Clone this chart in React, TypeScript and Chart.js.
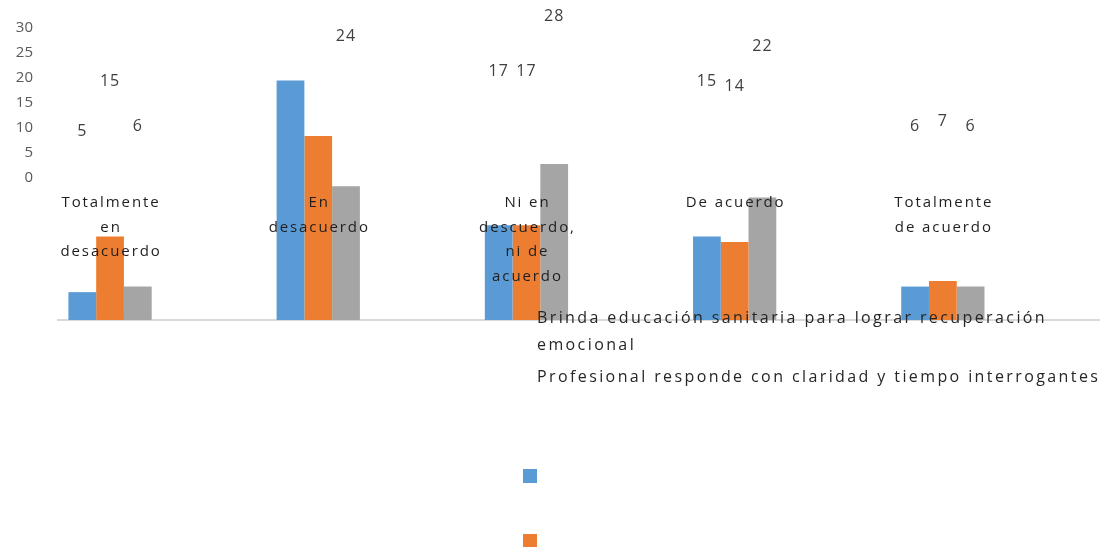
import { useEffect, useRef } from 'react';
import { Chart, registerables } from 'chart.js';

Chart.register(...registerables);

// Response categories (already split into display lines)
const categories: string[][] = [
  ['Totalmente', 'en', 'desacuerdo'],
  ['En', 'desacuerdo'],
  ['Ni en', 'descuerdo,', 'ni de', 'acuerdo'],
  ['De acuerdo'],
  ['Totalmente', 'de acuerdo'],
];

const seriesNames = [
  'Brinda educación sanitaria para lograr recuperación emocional',
  'Profesional responde con claridad y tiempo interrogantes',
  '',
];
const seriesColors = ['#5B9BD5', '#ED7D31', '#A5A5A5'];

const educacionSanitaria = [5, 43, 17, 15, 6];
const respondeClaridad = [15, 33, 17, 14, 7];
const terceraSerie = [6, 24, 28, 22, 6];

const tickValues = [0, 5, 10, 15, 20, 25, 30];

const FONT = '"Open Sans", "Noto Sans", sans-serif';

function wrapText(ctx: CanvasRenderingContext2D, text: string, maxWidth: number): string[] {
  if (!text) return [];
  const words = text.split(' ');
  const lines: string[] = [];
  let line = '';
  for (const w of words) {
    const test = line ? line + ' ' + w : w;
    if (ctx.measureText(test).width > maxWidth && line) {
      lines.push(line);
      line = w;
    } else {
      line = test;
    }
  }
  if (line) lines.push(line);
  return lines;
}

const valueLabels = {
  id: 'valueLabels',
  afterDatasetsDraw(chart: any) {
    const { ctx } = chart;
    const yTick = chart.scales.y;
    ctx.save();
    ctx.font = `16px ${FONT}`;
    ctx.fillStyle = '#404040';
    ctx.textAlign = 'center';
    ctx.textBaseline = 'middle';
    (ctx as any).letterSpacing = '1px';
    chart.data.datasets.forEach((ds: any, di: number) => {
      const meta = chart.getDatasetMeta(di);
      meta.data.forEach((el: any, i: number) => {
        const v = ds.data[i].y;
        ctx.fillText(String(v), el.x, yTick.getPixelForValue(v) - 21.5);
      });
    });
    ctx.restore();
  },
};

const categoryLabels = {
  id: 'categoryLabels',
  afterDatasetsDraw(chart: any) {
    const { ctx } = chart;
    const xs = chart.scales.x;
    const yTick = chart.scales.y;
    ctx.save();
    ctx.font = `15px ${FONT}`;
    ctx.fillStyle = '#1f1f1f';
    ctx.textAlign = 'center';
    ctx.textBaseline = 'middle';
    (ctx as any).letterSpacing = '1.9px';
    const top = yTick.getPixelForValue(-5);
    categories.forEach((lines, i) => {
      const x = xs.getPixelForValue(i);
      lines.forEach((line, li) => {
        ctx.fillText(line, x + 1, top + li * 24.5);
      });
    });
    ctx.restore();
  },
};

const legendBlock = {
  id: 'legendBlock',
  afterDraw(chart: any) {
    const { ctx } = chart;
    ctx.save();
    ctx.font = `16px ${FONT}`;
    ctx.fillStyle = '#262626';
    ctx.textAlign = 'left';
    ctx.textBaseline = 'middle';
    (ctx as any).letterSpacing = '2.4px';
    let y = 318;
    seriesNames.forEach((name) => {
      const lines = wrapText(ctx, name, 576);
      lines.forEach((line) => {
        ctx.fillText(line, 537, y);
        y += 27;
      });
      y += 5;
    });
    seriesColors.forEach((c, i) => {
      ctx.fillStyle = c;
      ctx.fillRect(523, 469 + i * 65, 14, 14);
    });
    ctx.restore();
  },
};

export default function App() {
  const canvasRef = useRef<HTMLCanvasElement | null>(null);

  useEffect(() => {
    if (!canvasRef.current) return;
    const series = [educacionSanitaria, respondeClaridad, terceraSerie];
    const chart = new Chart(canvasRef.current, {
      type: 'bar',
      data: {
        datasets: series.map((vals, si) => ({
          label: seriesNames[si],
          data: vals.map((v, i) => ({ x: i, y: v })),
          backgroundColor: seriesColors[si],
          borderWidth: 0,
          xAxisID: 'x',
          yAxisID: 'yBar',
          categoryPercentage: 0.4,
          barPercentage: 1,
        })),
      },
      options: {
        responsive: false,
        animation: false,
        layout: { padding: { top: 28, right: 14, bottom: 227, left: 0 } },
        plugins: {
          legend: { display: false },
          tooltip: { enabled: false },
        },
        scales: {
          x: {
            type: 'linear',
            position: 'bottom',
            offset: false,
            min: -0.25,
            max: 4.75,
            afterBuildTicks: (s: any) => {
              s.ticks = categories.map((_, i) => ({ value: i }));
            },
            afterFit: (s: any) => {
              s.height = 0;
              s.paddingLeft = 0;
              s.paddingRight = 0;
            },
            ticks: { display: false },
            grid: { display: false, drawTicks: false },
            border: { display: true, color: '#D9D9D9', width: 2 },
          },
          y: {
            type: 'linear',
            position: 'left',
            min: -28.4,
            max: 30,
            afterBuildTicks: (s: any) => {
              s.ticks = tickValues.map((v) => ({ value: v }));
            },
            afterFit: (s: any) => {
              s.width = 58;
              s.paddingTop = 0;
              s.paddingBottom = 0;
            },
            ticks: {
              color: '#595959',
              font: { family: FONT, size: 15 },
              padding: 25,
            },
            grid: { display: false, drawTicks: false },
            border: { display: false },
          },
          yBar: {
            type: 'linear',
            display: false,
            min: 0,
            max: 52.4,
          },
        },
      },
      plugins: [valueLabels, categoryLabels, legendBlock],
    });
    return () => chart.destroy();
  }, []);

  return (
    <div style={{ position: 'fixed', left: 0, top: 0, width: 1113, height: 547, background: '#fff' }}>
      <canvas ref={canvasRef} width={1113} height={547} />
    </div>
  );
}
